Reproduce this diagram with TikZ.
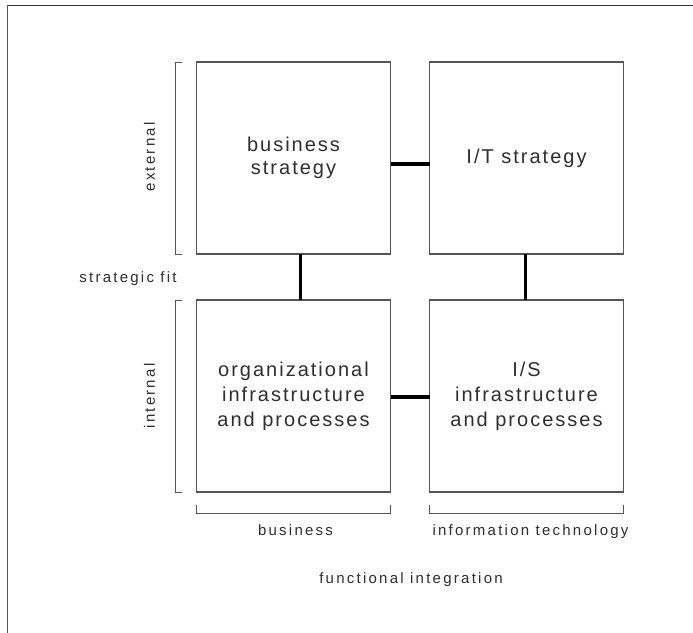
\documentclass[tikz,border=0pt]{standalone}
\usepackage{fontspec}
\setmainfont{Liberation Sans}
\newfontfamily\quadfont[LetterSpace=10]{Liberation Sans}
\newfontfamily\labelfont[LetterSpace=15]{Liberation Sans}
\usetikzlibrary{positioning}
\definecolor{linegray}{HTML}{555555}
\definecolor{textgray}{HTML}{2E2E2E}

\begin{document}
\begin{tikzpicture}[
    x=1pt, y=-1pt,
    node distance=46pt and 39pt,
    quad/.style={rectangle, draw=linegray, line width=1.2pt, minimum width=194pt, minimum height=192pt, inner sep=0pt, outer sep=0pt, align=center, text=textgray, font=\quadfont\fontsize{20}{25}\selectfont},
    link/.style={line width=3.5pt, black},
    bracket/.style={draw=linegray, line width=1pt},
    lbl/.style={text=textgray, font=\labelfont\fontsize{15}{18}\selectfont, inner sep=0pt}
]
\useasboundingbox (0,0) rectangle (693,632);

% Outer frame (cut by the page on the right and bottom)
\draw[black!80, line width=1.2pt] (6.5,5.5) -- (720,5.5);
\draw[linegray, line width=1.8pt] (7.5,5) -- (7.5,700);

% The four domains
\node[quad] (bs) at (293.5,158) {business\\[-2pt]strategy};
\node[quad, right=of bs] (it) {I/T strategy};
\node[quad, below=of bs] (oi) {organizational\\infrastructure\\and processes};
\node[quad, below=of it] (is) {I/S\\infrastructure\\and processes};

% Links between domains
\draw[link] ([yshift=-6pt]bs.east) -- ([yshift=-6pt]it.west);
\draw[link] ([yshift=-1pt]oi.east) -- ([yshift=-1pt]is.west);
\draw[link] ([xshift=7pt]bs.south) -- ([xshift=7pt]oi.north);
\draw[link] ([xshift=-1pt]it.south) -- ([xshift=-1pt]is.north);

% Brackets - left side
\draw[bracket] ([xshift=-15pt]bs.north west) -- ([xshift=-21pt]bs.north west) -- ([xshift=-21pt]bs.south west) -- ([xshift=-15pt]bs.south west);
\draw[bracket] ([xshift=-15pt]oi.north west) -- ([xshift=-21pt]oi.north west) -- ([xshift=-21pt]oi.south west) -- ([xshift=-15pt]oi.south west);

% Brackets - bottom
\draw[bracket] ([yshift=-13pt]oi.south west) -- ([yshift=-21pt]oi.south west) -- ([yshift=-21pt]oi.south east) -- ([yshift=-13pt]oi.south east);
\draw[bracket] ([yshift=-13pt]is.south west) -- ([yshift=-21pt]is.south west) -- ([yshift=-21pt]is.south east) -- ([yshift=-13pt]is.south east);

% Labels
\node[lbl, rotate=90] (ext) at ([xshift=-47pt, yshift=1pt]bs.west) {external};
\node[lbl, rotate=90] (int) at ([xshift=-47pt]oi.west) {internal};
\node[lbl, anchor=base] (fit) at (128,282) {strategic fit};
\node[lbl, anchor=base] (biz) at ([xshift=2pt, yshift=-43pt]oi.south) {business};
\node[lbl, anchor=base] (tech) at ([xshift=4pt, yshift=-43pt]is.south) {information technology};
\node[lbl, anchor=base] (func) at (411,583) {functional integration};

\end{tikzpicture}
\end{document}
